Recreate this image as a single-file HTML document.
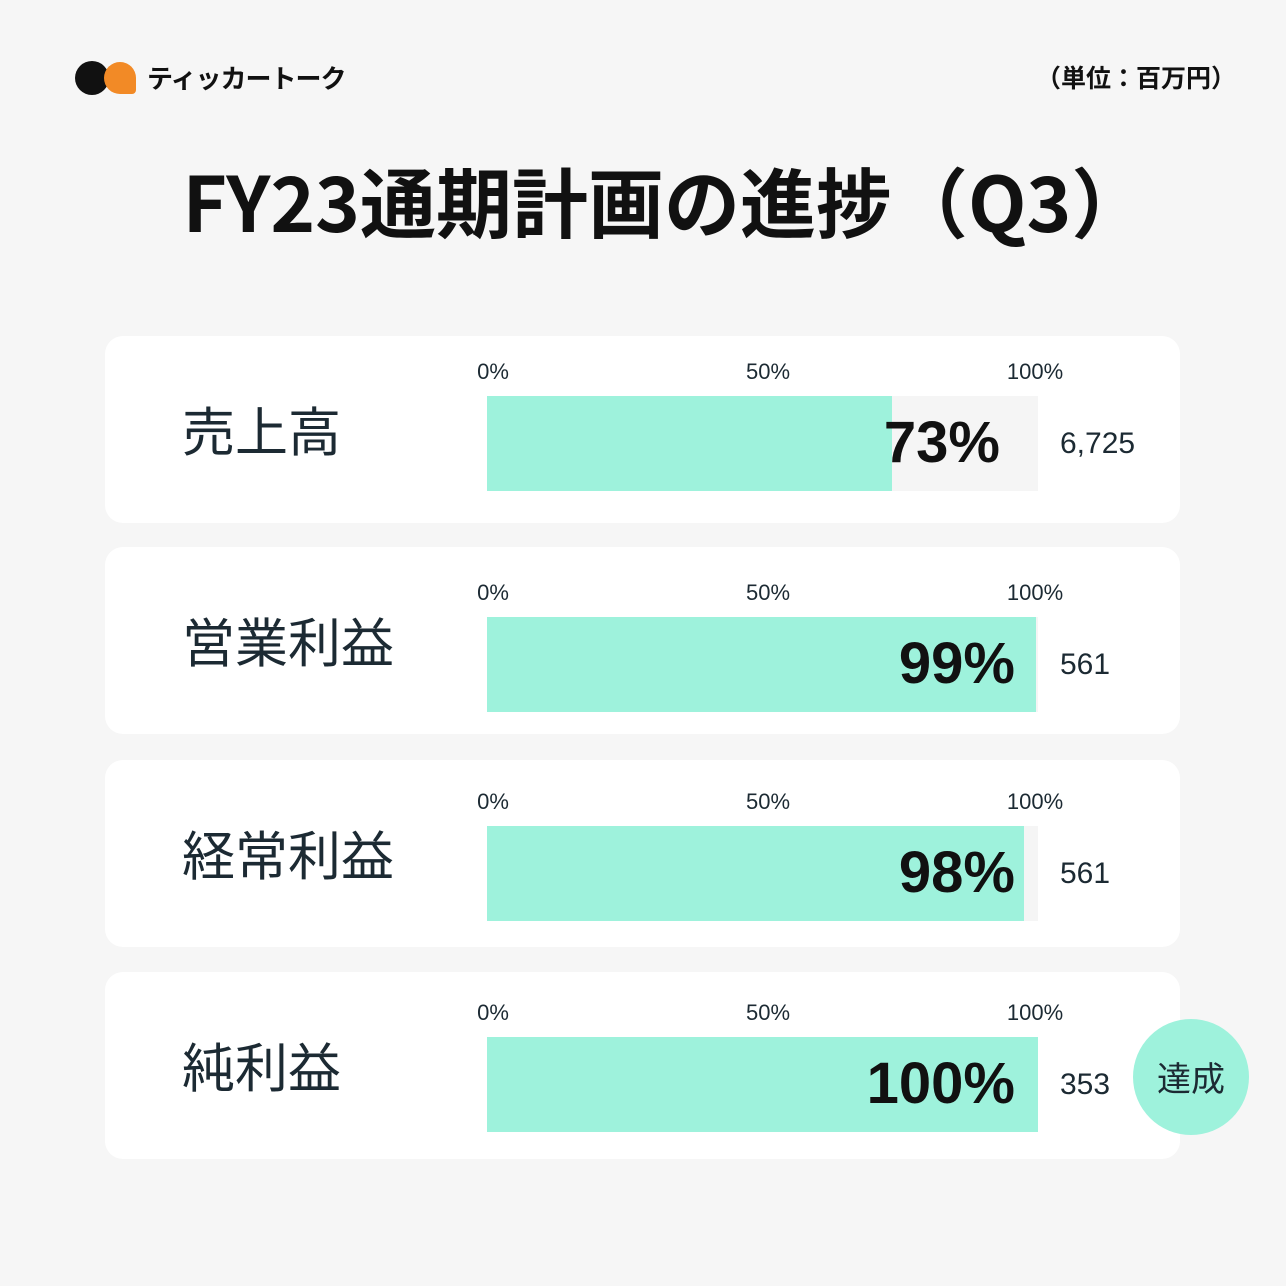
<!DOCTYPE html>
<html><head><meta charset="utf-8"><style>
body{margin:0;width:1286px;height:1286px;background:#f6f6f6;position:relative;overflow:hidden;font-family:"Liberation Sans","Noto Sans CJK JP",sans-serif;color:#111}
.a{position:absolute}
.card{position:absolute;left:105px;width:1075px;height:187px;background:#fff;border-radius:18px}
.in{position:absolute;left:0;width:1075px;height:187px}
.lab{position:absolute;left:77px;top:58px;font-size:53px;color:#1c2a33;font-family:"Noto Sans CJK JP",sans-serif;line-height:70px}
.tk{position:absolute;top:24px;font-size:22px;color:#1c2a33;line-height:24px;transform:translateX(-50%)}
.track{position:absolute;left:382px;top:60px;width:551px;height:95px;background:#f5f5f5}
.fill{position:absolute;left:0;top:0;height:95px;background:#9ef2dc}
.pct{position:absolute;top:72px;font-size:58px;font-weight:bold;line-height:70px;text-align:right;color:#111}
.val{position:absolute;left:955px;top:88px;font-size:30px;color:#1c2a33;line-height:40px}
</style></head><body>
<div class="a" style="left:75px;top:61px;width:34px;height:34px;border-radius:50%;background:#111"></div>
<div class="a" style="left:104px;top:62px;width:32px;height:32px;border-radius:50% 50% 4px 50%;background:#f28a26"></div>
<div class="a" style="left:147px;top:60px;font-size:26px;font-weight:bold;line-height:36px;font-family:'Noto Sans CJK JP',sans-serif;letter-spacing:-1px">ティッカートーク</div>
<div class="a" style="right:50px;top:60px;font-size:25px;font-weight:bold;line-height:34px;font-family:'Noto Sans CJK JP',sans-serif">（単位：百万円）</div>
<div class="a" style="left:22px;width:1286px;top:152px;text-align:center;font-size:76px;font-weight:bold;line-height:94px;font-family:'Noto Sans CJK JP',sans-serif">FY23通期計画の進捗（Q3）</div>

<div class="card" style="top:336px"><div class="lab">売上高</div><div class="in" style="top:0">
<div class="tk" style="left:388px">0%</div><div class="tk" style="left:663px">50%</div><div class="tk" style="left:930px">100%</div>
<div class="track"><div class="fill" style="width:405px"></div></div>
<div class="pct" style="right:180px">73%</div><div class="val">6,725</div></div></div>

<div class="card" style="top:547px"><div class="lab">営業利益</div><div class="in" style="top:10px">
<div class="tk" style="left:388px">0%</div><div class="tk" style="left:663px">50%</div><div class="tk" style="left:930px">100%</div>
<div class="track"><div class="fill" style="width:549px"></div></div>
<div class="pct" style="right:165px">99%</div><div class="val">561</div></div></div>

<div class="card" style="top:760px"><div class="lab">経常利益</div><div class="in" style="top:6px">
<div class="tk" style="left:388px">0%</div><div class="tk" style="left:663px">50%</div><div class="tk" style="left:930px">100%</div>
<div class="track"><div class="fill" style="width:537px"></div></div>
<div class="pct" style="right:165px">98%</div><div class="val">561</div></div></div>

<div class="card" style="top:972px"><div class="lab">純利益</div><div class="in" style="top:5px">
<div class="tk" style="left:388px">0%</div><div class="tk" style="left:663px">50%</div><div class="tk" style="left:930px">100%</div>
<div class="track"><div class="fill" style="width:551px"></div></div>
<div class="pct" style="right:165px">100%</div><div class="val">353</div></div></div>

<div class="a" style="left:1133px;top:1019px;width:116px;height:116px;border-radius:50%;background:#9ef2dc;text-align:center;line-height:116px;font-size:34px;color:#1c2a33;font-family:'Noto Sans CJK JP',sans-serif">達成</div>
</body></html>
